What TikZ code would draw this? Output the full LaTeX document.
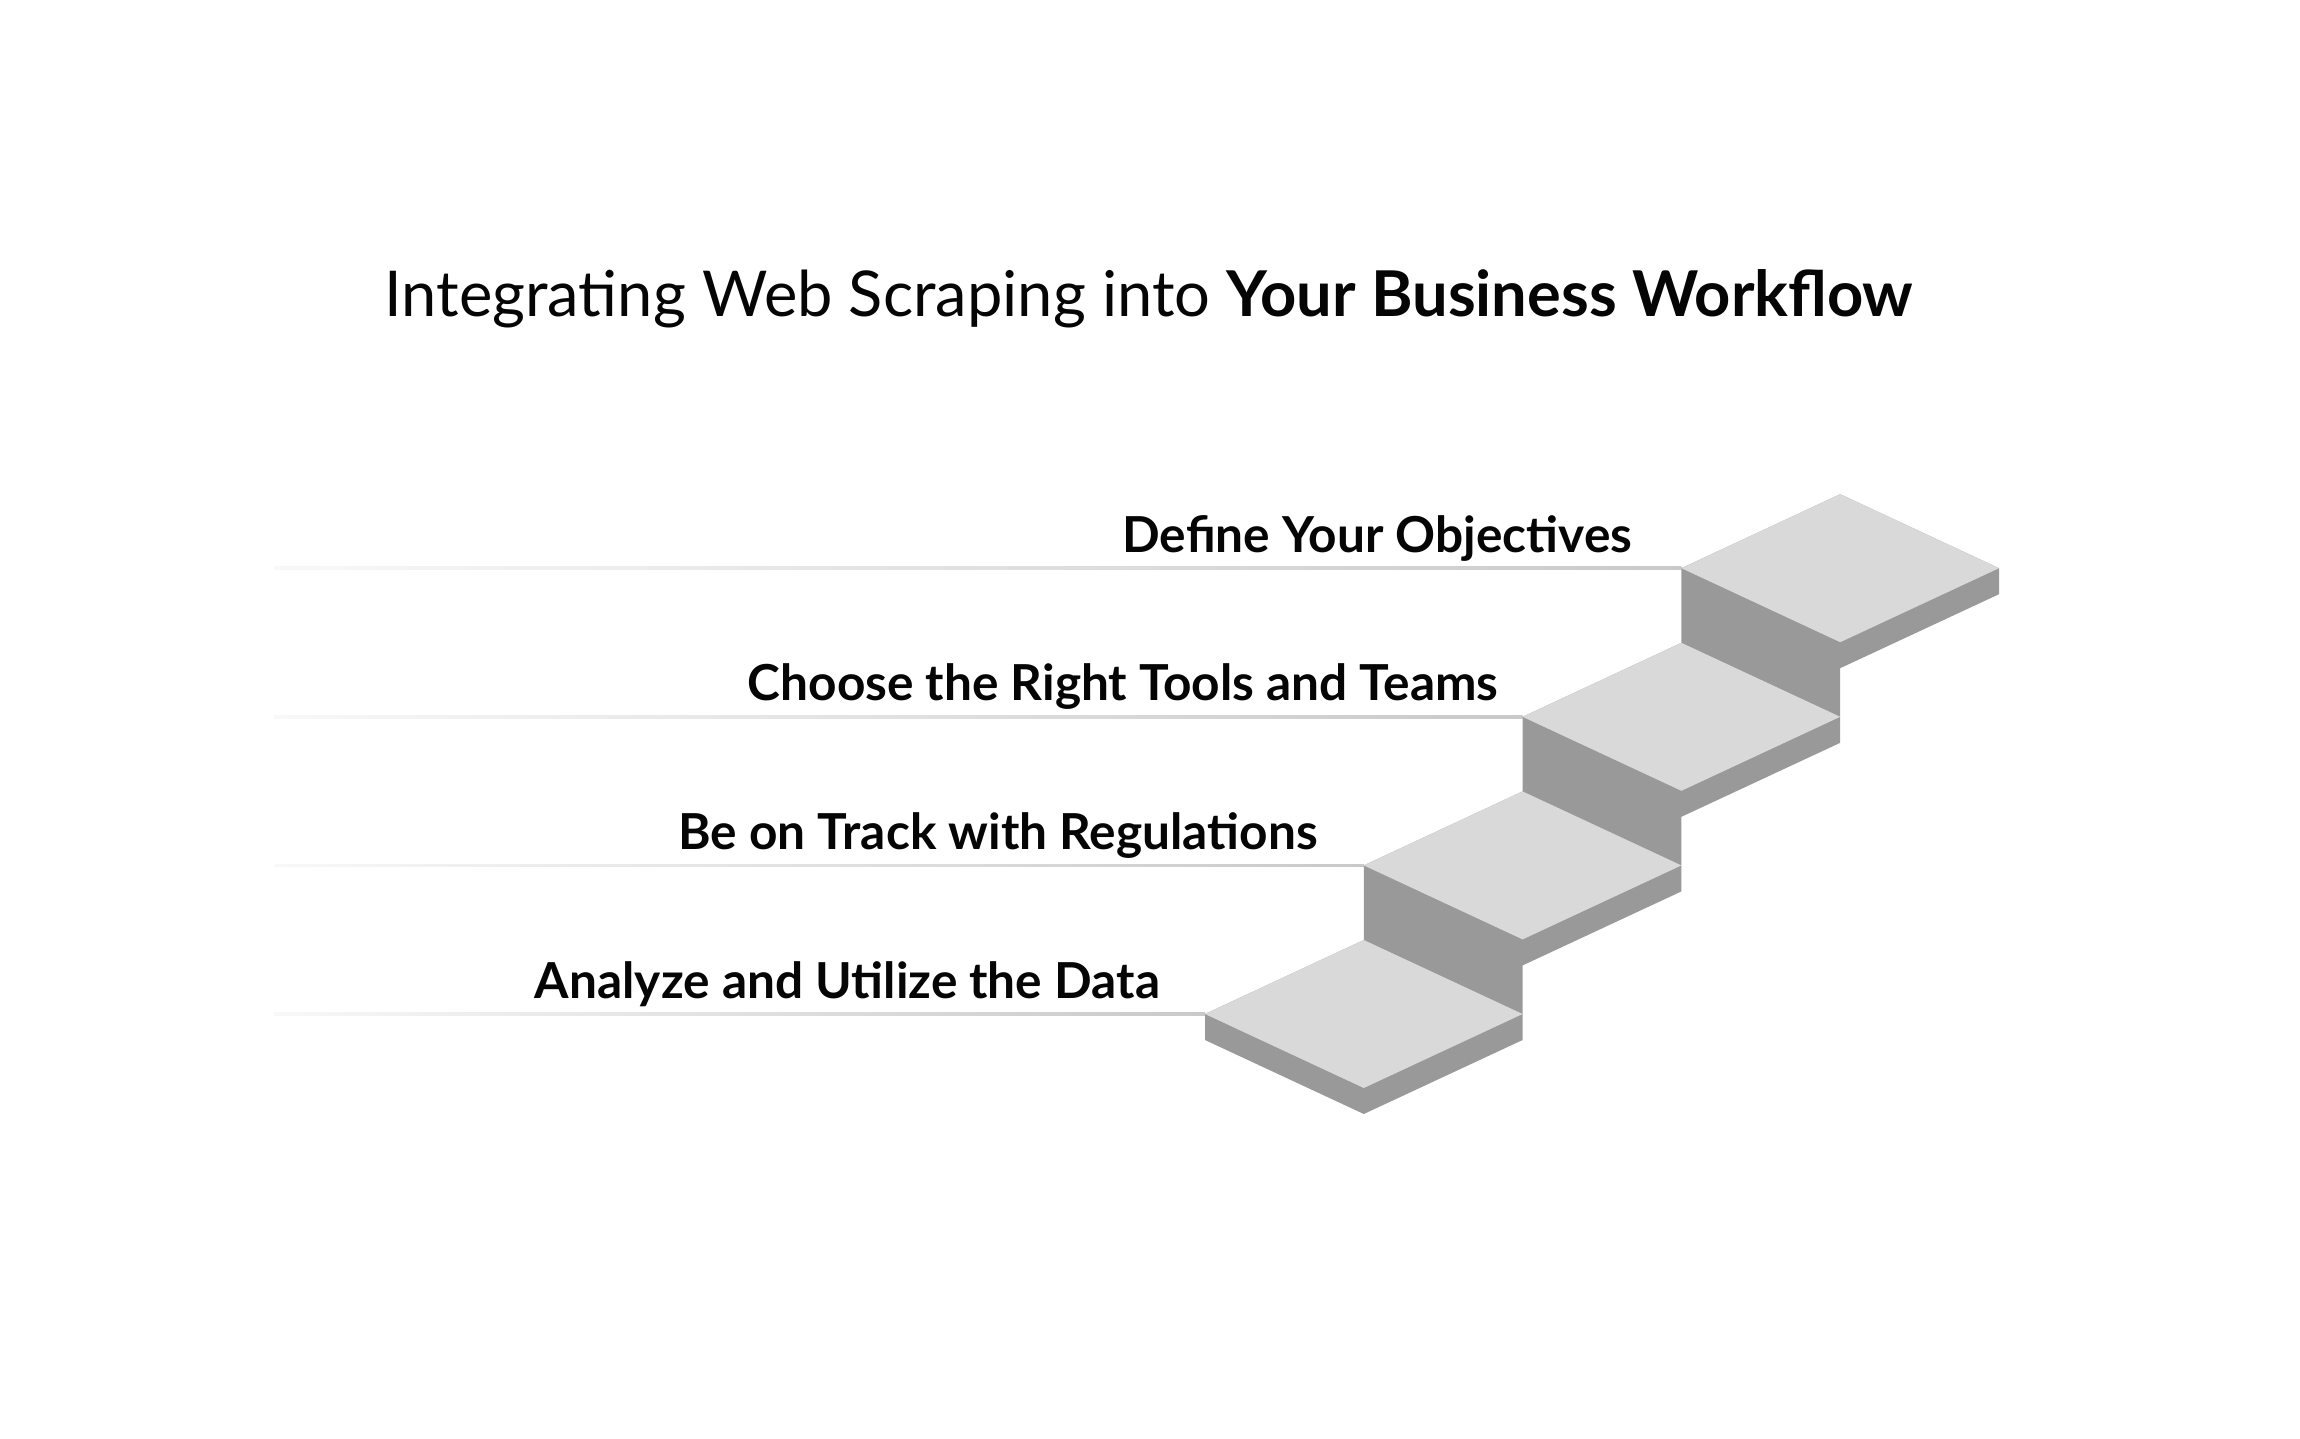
\documentclass[tikz,border=0pt]{standalone}
\usepackage{fontspec}
\setmainfont{Lato}

\definecolor{stepTop}{HTML}{D9D9D9}
\definecolor{stepSide}{HTML}{999999}
\definecolor{railFar}{HTML}{F8F8F8}
\definecolor{railNear}{HTML}{C9C9C9}
\definecolor{inkBlack}{HTML}{050505}

\tikzset{
  steplabel/.style={anchor=base east, inner sep=0pt, text=inkBlack,
    font=\fontsize{49.6}{60}\selectfont\bfseries},
  railshade/.style={left color=railFar, right color=railNear},
}

\begin{document}
\begin{tikzpicture}[x=1pt, y=-1pt, line join=round]

  %% ════ 台阶左角（标签和横线都挂在这里）════
  \coordinate (s1) at (1681.4,568.2);
  \coordinate (s2) at (1522.6,716.8);
  \coordinate (s3) at (1363.8,865.4);
  \coordinate (s4) at (1205.0,1014.0);

  %% ════ 横线起点 ════
  \coordinate (r1) at (274,568.2);
  \coordinate (r2) at (274,716.8);
  \coordinate (r3) at (274,865.4);
  \coordinate (r4) at (274,1014.0);

  %% ════ 标题 ════
  \node[anchor=base, inner sep=0pt, text=inkBlack, font=\fontsize{63.2}{76}\selectfont] (title) at (1149,316)
    {Integrating Web Scraping into \textbf{Your Business Workflow}};

  %% ════ 横线（渐变）════
  \shade[railshade] ([yshift=-1.4pt]r1) rectangle ([yshift=1.4pt]s1);
  \shade[railshade] ([yshift=-1.4pt]r2) rectangle ([yshift=1.4pt]s2);
  \shade[railshade] ([yshift=-1.4pt]r3) rectangle ([yshift=1.4pt]s3);
  \shade[railshade] ([yshift=-1.4pt]r4) rectangle ([yshift=1.4pt]s4);

  %% ════ 台阶暗面（整体轮廓）════
  \fill[stepSide] (1681.4,568.2) -- (1840.2,494.2) -- (1999.0,568.2) -- (1999.0,594.2)
    -- (1840.2,668.2) -- (1840.2,716.8) -- (1840.2,742.8) -- (1681.4,816.8)
    -- (1681.4,865.4) -- (1681.4,891.4) -- (1522.6,965.4) -- (1522.6,1014.0)
    -- (1522.6,1040.0) -- (1363.8,1114.0) -- (1205.0,1040.0) -- (1205.0,1014.0)
    -- (1363.8,940.0) -- (1363.8,865.4) -- (1522.6,791.4) -- (1522.6,716.8)
    -- (1681.4,642.8) -- cycle;

  %% ════ 台阶顶面 ════
  \fill[stepTop] (1681.4,568.2) -- (1840.2,494.2) -- (1999.0,568.2) -- (1840.2,642.2) -- cycle;
  \fill[stepTop] (1522.6,716.8) -- (1681.4,642.8) -- (1840.2,716.8) -- (1681.4,790.8) -- cycle;
  \fill[stepTop] (1363.8,865.4) -- (1522.6,791.4) -- (1681.4,865.4) -- (1522.6,939.4) -- cycle;
  \fill[stepTop] (1205.0,1014.0) -- (1363.8,940.0) -- (1522.6,1014.0) -- (1363.8,1088.0) -- cycle;

  %% ════ 标签 ════
  \node[steplabel] (obj)  at ([xshift=-49pt, yshift=16pt]s1) {Define Your Objectives};
  \node[steplabel] (tool) at ([xshift=-24pt, yshift=16pt]s2) {Choose the Right Tools and Teams};
  \node[steplabel] (reg)  at ([xshift=-46pt, yshift=16pt]s3) {Be on Track with Regulations};
  \node[steplabel] (data) at ([xshift=-45pt, yshift=16pt]s4) {Analyze and Utilize the Data};

  % 钉死画布
  \pgfresetboundingbox
  \path[use as bounding box] (0,0) rectangle (2300,1438);
\end{tikzpicture}
\end{document}
